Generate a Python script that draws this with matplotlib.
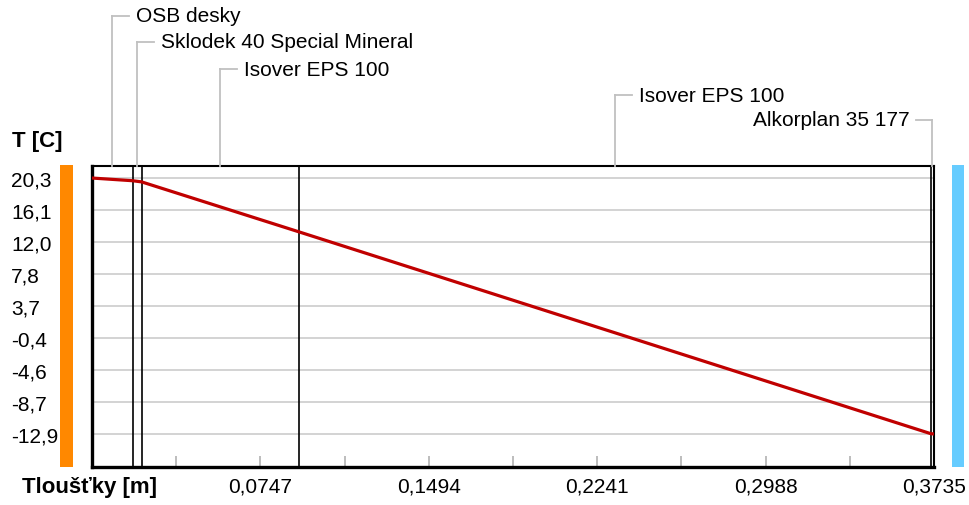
import matplotlib
matplotlib.use("Agg")
import matplotlib.pyplot as plt
from matplotlib.lines import Line2D
from matplotlib.patches import Rectangle

plt.rcParams['font.family'] = ['Liberation Sans', 'DejaVu Sans']

# ---- data ----
layer_names = ["OSB desky", "Sklodek 40 Special Mineral", "Isover EPS 100",
               "Isover EPS 100", "Alkorplan 35 177"]
layer_bounds = [0.0, 0.018, 0.022, 0.092, 0.372, 0.3735]   # m
profile_x = [0.0, 0.018, 0.022, 0.092, 0.372, 0.3735]        # m
profile_t = [20.3, 19.95, 19.8, 13.3, -12.85, -12.9]         # deg C
y_tick_values = [20.3, 16.15, 12.0, 7.85, 3.7, -0.45, -4.6, -8.75, -12.9]
y_tick_labels = ["20,3", "16,1", "12,0", "7,8", "3,7", "-0,4", "-4,6", "-8,7", "-12,9"]
x_tick_values = [0.0747, 0.1494, 0.2241, 0.2988, 0.3735]
x_tick_labels = ["0,0747", "0,1494", "0,2241", "0,2988", "0,3735"]
x_minor_values = [0.03735, 0.11205, 0.18675, 0.26145, 0.33615]
y_limits = (-17.18, 21.86)

W, H = 970, 506
fig = plt.figure(figsize=(W / 100, H / 100), dpi=100)
fig.patch.set_facecolor("white")

def fx(px):
    return px / W

def fy(py):
    return 1 - py / H

ax_l, ax_r, ax_t, ax_b = 92, 934, 167, 468
ax = fig.add_axes([fx(ax_l), fy(ax_b), fx(ax_r - ax_l), (ax_b - ax_t) / H])
ax.set_xlim(0, layer_bounds[-1])
ax.set_ylim(*y_limits)

# grid lines
ax.set_yticks(y_tick_values, y_tick_labels)
ax.yaxis.grid(True, color="#d0d0d0", lw=1.3)
ax.set_axisbelow(True)
ax.tick_params(axis="y", length=0, pad=58.3, labelsize=15)
for lab in ax.get_yticklabels():
    lab.set_horizontalalignment("left")

ax.set_xticks(x_tick_values, x_tick_labels)
ax.set_xticks(x_minor_values, minor=True)
ax.tick_params(axis="x", which="both", direction="in", length=8, width=1.3,
               color="#b8b8b8", labelsize=15, pad=6.5)

# spines
for s in ["left", "bottom"]:
    ax.spines[s].set_linewidth(2.4)
for s in ["top", "right"]:
    ax.spines[s].set_linewidth(1.5)

# layer boundaries
for b in layer_bounds[1:-1]:
    ax.axvline(b, color="black", lw=1.2, zorder=3)

# temperature profile
ax.plot(profile_x, profile_t, color="#c00000", lw=2.3, zorder=4,
        solid_capstyle="butt")

# side bars
fig.add_artist(Rectangle((fx(60), fy(468)), fx(13), (468 - 166) / H,
                         transform=fig.transFigure, color="#ff8800", lw=0))
fig.add_artist(Rectangle((fx(952), fy(468)), fx(12), (468 - 166) / H,
                         transform=fig.transFigure, color="#66ccff", lw=0))

# axis titles
fig.text(fx(12), fy(142), "T [C]", fontsize=16, fontweight="bold",
         ha="left", va="center")
fig.text(fx(22), fy(488), "Tloušťky [m]", fontsize=16, fontweight="bold",
         ha="left", va="center")

# layer labels with leader lines
label_y = [17, 43, 70, 96, 121]
lead_col = "#c0c0c0"
for i, name in enumerate(layer_names):
    mid = (layer_bounds[i] + layer_bounds[i + 1]) / 2
    px = ax.transData.transform((mid, 0))[0] * W / fig.bbox.width
    ly = label_y[i]
    fig.add_artist(Line2D([fx(px), fx(px)], [fy(ax_t), fy(ly)],
                          transform=fig.transFigure, color=lead_col, lw=1.3))
    if mid > 0.95 * layer_bounds[-1]:
        fig.add_artist(Line2D([fx(px), fx(px - 16)], [fy(ly), fy(ly)],
                              transform=fig.transFigure, color=lead_col, lw=1.3))
        fig.text(fx(px - 23), fy(ly), name, fontsize=15, ha="right", va="center")
    else:
        fig.add_artist(Line2D([fx(px), fx(px + 17)], [fy(ly), fy(ly)],
                              transform=fig.transFigure, color=lead_col, lw=1.3))
        fig.text(fx(px + 24), fy(ly), name, fontsize=15, ha="left", va="center")

fig.savefig("out.png", dpi=100)
